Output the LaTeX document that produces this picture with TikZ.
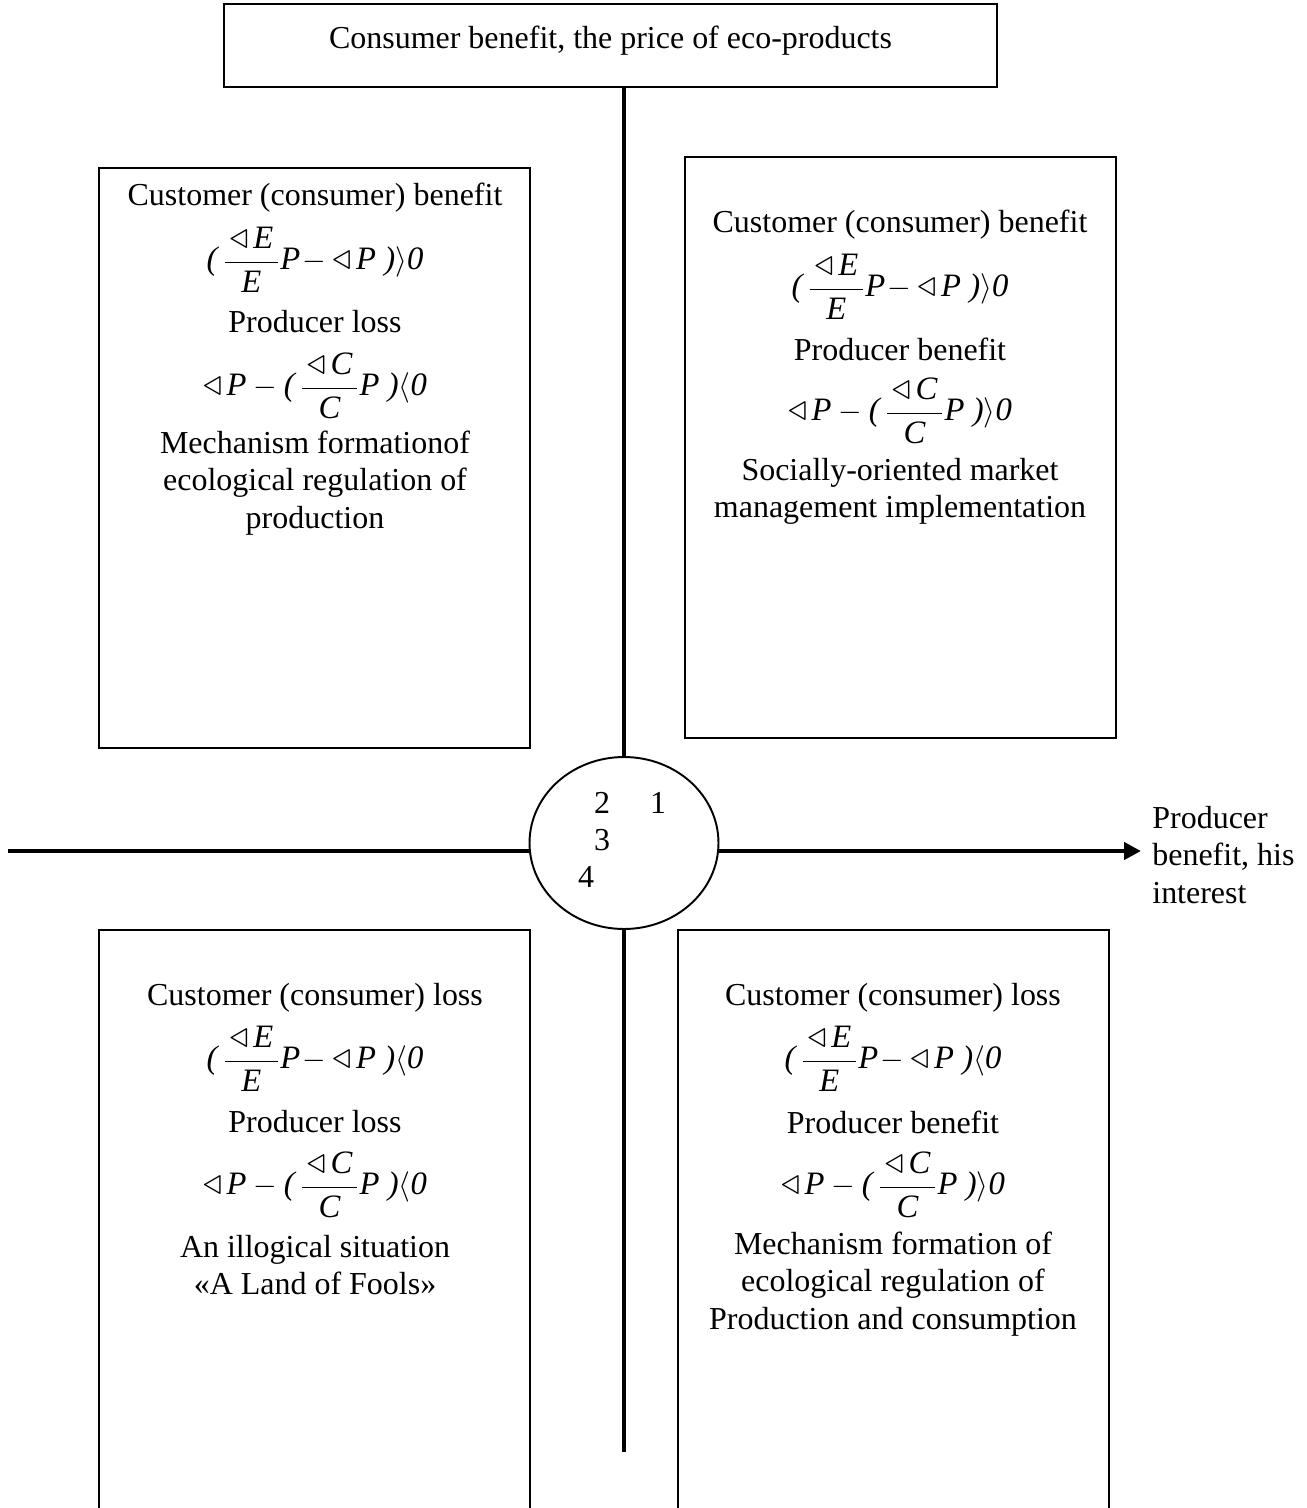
\documentclass[tikz,border=0pt]{standalone}
\usepackage{fontspec}
\setmainfont{Liberation Serif}
\usetikzlibrary{arrows.meta,shapes.geometric}
\newcommand\Iv[1]{\mbox{\itshape #1}}
\newcommand\Tri{\mathord{\scalebox{1.25}{$\triangleleft$}}}
\newcommand\Fr[1]{\frac{\,\Tri\,\Iv{#1}\rule[-3pt]{0pt}{10pt}\,}{\rule{0pt}{16pt}\Iv{#1}}}
\newcommand\FormE[1]{$\displaystyle\Iv{(}\,\Fr{E}\Iv{P}\!-\Tri\,\Iv{P}\;\Iv{)}#1\Iv{0}$}
\newcommand\FormC[1]{$\displaystyle\Tri\,\Iv{P}-\Iv{(}\,\Fr{C}\Iv{P}\;\Iv{)}#1\Iv{0}$}
\begin{document}
\begin{tikzpicture}[x=0.02cm,y=-0.02cm,
  txt/.style={font=\fontsize{18.2}{21.2}\selectfont, align=center, inner sep=0pt},
  frm/.style={font=\fontsize{18.6}{21.5}\selectfont, align=center, inner sep=0pt},
  box/.style={draw, line width=0.8pt},
  axis/.style={line width=2.8pt}]
\useasboundingbox (0,0) rectangle (1307,1508);
\clip (0,0) rectangle (1307,1508);
% title box
\node[box, minimum width=15.46cm, minimum height=1.66cm, inner sep=0pt] (title) at (610.5,45.5) {};
\node[txt] (titletxt) at (610.5,41) {Consumer benefit, the price of eco-products};
% hub
\node[ellipse, draw, line width=1.1pt, minimum width=3.78cm, minimum height=3.44cm, inner sep=0pt] (hub) at (624,843) {};
\node[txt] (n2) at (602,803) {2};
\node[txt] (n1) at (658,803) {1};
\node[txt] (n3) at (602,840) {3};
\node[txt] (n4) at (586,877) {4};
% axes
\coordinate (hstart) at (8,851);
\coordinate (harrow) at (1141,851);
\coordinate (vend) at (624,1452);
\draw[axis] (title.south -| hub.north) -- (hub.north);
\draw[axis] (hub.south) -- (vend);
\draw[axis] (hstart) -- (hstart -| hub.west);
\draw[axis, -{Triangle[length=0.34cm,width=0.34cm]}] (hstart -| hub.east) -- (harrow);
\node[txt, align=left, anchor=west] (xlabel) at (1152,855) {Producer\\benefit, his\\interest};
% quadrant boxes
\draw[box] (99,168) rectangle (530,748);
\draw[box] (685,157) rectangle (1116,738);
\draw[box] (99,930) rectangle (530,1530);
\draw[box] (678,930) rectangle (1109,1530);
% top left
\node[txt] (tl1) at (315,198) {Customer (consumer) benefit};
\node[frm] (tl2) at (315,260) {\FormE{\rangle}};
\node[txt] (tl3) at (315,322) {Producer loss};
\node[frm] (tl4) at (315,386) {\FormC{\langle}};
\node[txt] (tl5) at (315,483) {Mechanism formationof\\ecological regulation of\\production};
% top right
\node[txt] (tr1) at (900,225) {Customer (consumer) benefit};
\node[frm] (tr2) at (900,287) {\FormE{\rangle}};
\node[txt] (tr3) at (900,349) {Producer benefit};
\node[frm] (tr4) at (900,411) {\FormC{\rangle}};
\node[txt] (tr5) at (900,491) {Socially-oriented market\\management implementation};
% bottom left
\node[txt] (bl1) at (315,998) {Customer (consumer) loss};
\node[frm] (bl2) at (315,1059) {\FormE{\langle}};
\node[txt] (bl3) at (315,1122) {Producer loss};
\node[frm] (bl4) at (315,1185) {\FormC{\langle}};
\node[txt] (bl5) at (315,1265) {An illogical situation\\«A Land of Fools»};
% bottom right
\node[txt] (br1) at (893,998) {Customer (consumer) loss};
\node[frm] (br2) at (893,1059) {\FormE{\langle}};
\node[txt] (br3) at (893,1122) {Producer benefit};
\node[frm] (br4) at (893,1185) {\FormC{\rangle}};
\node[txt] (br5) at (893,1284) {Mechanism formation of\\ecological regulation of\\Production and consumption};
\end{tikzpicture}
\end{document}
